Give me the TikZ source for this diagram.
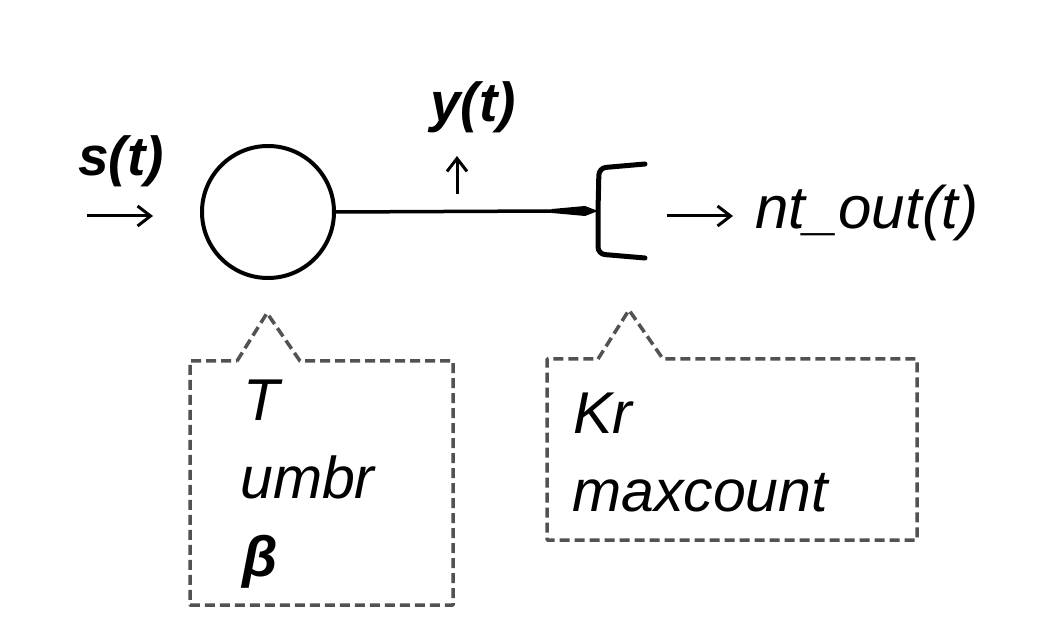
\documentclass[tikz,border=0pt]{standalone}
\usepackage{fontspec}
\setmainfont{Liberation Sans}
\usetikzlibrary{arrows.meta}
\begin{document}
\begin{tikzpicture}[x=1pt,y=-1pt,
  lbl/.style={font=\fontsize{59}{64}\selectfont\itshape, inner sep=0pt},
  blbl/.style={font=\fontsize{55}{60}\selectfont\bfseries\itshape, inner sep=0pt},
  thinarrow/.style={line width=3pt, -{Straight Barb[length=13pt,width=20pt,line width=3pt]}},
  dbox/.style={draw=black!68, line width=3.5pt, dash pattern=on 10pt off 5pt, line join=round}]
\useasboundingbox (0,0) rectangle (1058,644);
% neuron body
\node[circle, draw, line width=4pt, minimum size=132pt, inner sep=0pt] (c) at (268,212) {};
% bracket (synapse)
\coordinate (b) at (598,211);
\draw[line width=3.5pt] (c.east) -- (552,211) coordinate (tap);
\fill (552,209) -- (585,206) -- (b) -- (585,216) -- (552,213) -- cycle;
\draw[line width=5pt, line cap=round, rounded corners=7pt] (645,164) -- (599,168) -- (598,211) -- (598,254) -- (645,258);
% input arrow and label
\coordinate (s1) at (87,216); \coordinate (s2) at (153,216);
\draw[thinarrow] (s1) -- (s2);
\node[blbl] (st) at (121,161) {s(t)};
% y(t)
\coordinate (y1) at (457,194); \coordinate (y2) at (457,156);
\draw[thinarrow] (y1) -- (y2);
\node[blbl] (yt) at (473,107) {y(t)};
% output
\coordinate (o1) at (667,216); \coordinate (o2) at (733,216);
\draw[thinarrow] (o1) -- (o2);
\node[lbl, anchor=west, font=\fontsize{60}{64}\selectfont\itshape] (nt) at (755,213) {nt\_out(t)};
% dashed callout 1
\draw[dbox] (237,361) -- (267,313) -- (300,361) -- (453,361) -- (453,605) -- (190,605) -- (190,361) -- cycle;
\node[lbl, anchor=west] (T) at (243,400) {T};
\node[lbl, anchor=west] (u) at (240,477) {umbr};
\node[lbl, anchor=west, font=\fontsize{57}{62}\selectfont\bfseries\itshape] (be) at (242,562) {β};
% dashed callout 2
\draw[dbox] (598,359) -- (629,310) -- (663,359) -- (917,359) -- (917,540) -- (547,540) -- (547,359) -- cycle;
\node[lbl, anchor=west] (kr) at (573,413) {Kr};
\node[lbl, anchor=west] (mc) at (572,493) {maxcount};
\end{tikzpicture}
\end{document}
